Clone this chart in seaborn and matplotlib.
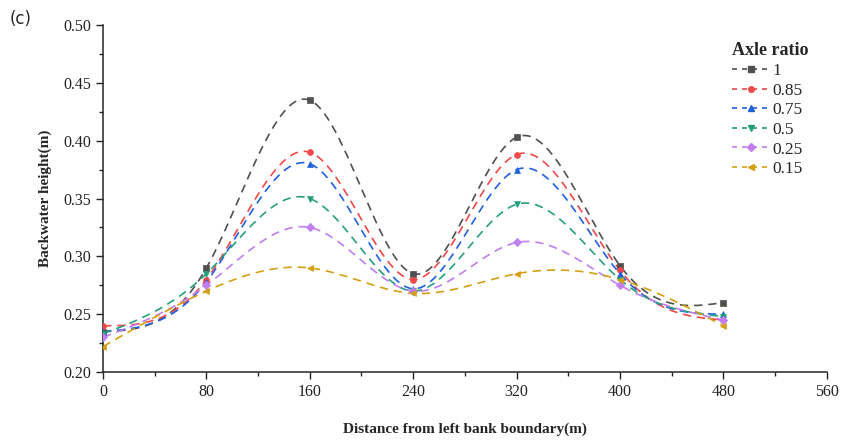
import numpy as np
import pandas as pd
import matplotlib
matplotlib.use("Agg")
import matplotlib.pyplot as plt
import seaborn as sns
from matplotlib.lines import Line2D
from matplotlib.ticker import MultipleLocator

distance = [0, 80, 160, 240, 320, 400, 480]
labels = ["1", "0.85", "0.75", "0.5", "0.25", "0.15"]
h_1 = [0.235, 0.290, 0.435, 0.285, 0.403, 0.292, 0.260]
h_085 = [0.240, 0.280, 0.390, 0.280, 0.388, 0.288, 0.245]
h_075 = [0.235, 0.278, 0.380, 0.272, 0.375, 0.285, 0.250]
h_05 = [0.233, 0.285, 0.350, 0.270, 0.345, 0.280, 0.248]
h_025 = [0.230, 0.275, 0.325, 0.270, 0.312, 0.275, 0.245]
h_015 = [0.222, 0.270, 0.290, 0.268, 0.285, 0.280, 0.240]
series = [h_1, h_085, h_075, h_05, h_025, h_015]

colors = ["#505050", "#f04848", "#2060e0", "#25a07a", "#c07ef0", "#d4a012"]
markers = ["s", "o", "^", "v", "D", "<"]


def spline(x, y, n=300):
    # natural cubic spline, like Origin's "Spline" connect
    x = np.asarray(x, float); y = np.asarray(y, float)
    k = len(x); h = np.diff(x)
    A = np.zeros((k, k)); b = np.zeros(k)
    A[0, 0] = A[-1, -1] = 1
    for i in range(1, k - 1):
        A[i, i - 1] = h[i - 1]; A[i, i] = 2 * (h[i - 1] + h[i]); A[i, i + 1] = h[i]
        b[i] = 6 * ((y[i + 1] - y[i]) / h[i] - (y[i] - y[i - 1]) / h[i - 1])
    M = np.linalg.solve(A, b)
    xs = np.linspace(x[0], x[-1], n)
    j = np.clip(np.searchsorted(x, xs) - 1, 0, k - 2)
    t0 = x[j + 1] - xs; t1 = xs - x[j]
    ys = (M[j] * t0**3 + M[j + 1] * t1**3) / (6 * h[j]) \
        + (y[j] / h[j] - M[j] * h[j] / 6) * t0 + (y[j + 1] / h[j] - M[j + 1] * h[j] / 6) * t1
    return xs, ys


sns.set_style("ticks")
plt.rcParams["font.family"] = ["Liberation Serif", "DejaVu Serif"]
plt.rcParams["xtick.direction"] = "out"
plt.rcParams["ytick.direction"] = "out"

fig = plt.figure(figsize=(8.41, 4.40), dpi=100)
ax = fig.add_axes([0.1225, 0.1545, 0.8605, 0.7885])

handles = []
for vals, lab, c, m in zip(series, labels, colors, markers):
    xs, ys = spline(distance, vals)
    sns.lineplot(x=xs, y=ys, ax=ax, color=c, lw=1.2, linestyle=(0, (5, 3.5)))
    sns.scatterplot(x=distance, y=vals, ax=ax, color=c, marker=m, s=18, edgecolor=c, linewidth=0.5, zorder=3)
    handles.append(Line2D([], [], color=c, lw=1.2, linestyle=(0, (3, 3)), marker=m, markersize=4))

ax.set_xlim(0, 560)
ax.set_ylim(0.20, 0.50)
ax.xaxis.set_major_locator(MultipleLocator(80))
ax.xaxis.set_minor_locator(MultipleLocator(40))
ax.yaxis.set_major_locator(MultipleLocator(0.05))
ax.yaxis.set_minor_locator(MultipleLocator(0.025))
ax.yaxis.set_major_formatter(matplotlib.ticker.FormatStrFormatter("%.2f"))
ax.tick_params(which="major", length=5, width=1, labelsize=11.5, colors="#222222")
ax.tick_params(which="minor", length=3, width=1)
sns.despine(ax=ax)
for s in ("left", "bottom"):
    ax.spines[s].set_linewidth(1.1)

ax.set_xlabel("Distance from left bank boundary(m)", fontsize=11, fontweight="bold", labelpad=16)
ax.set_ylabel("Backwater height(m)", fontsize=11, fontweight="bold", labelpad=8)

leg = ax.legend(handles, labels, title="Axle ratio", loc="upper left", bbox_to_anchor=(0.86, 0.97),
                frameon=False, fontsize=12.5, handlelength=2.2, handletextpad=0.1, labelspacing=0.2,
                borderaxespad=0)
leg.get_title().set_fontweight("bold")
leg.get_title().set_fontsize(13)
leg._legend_box.align = "left"

fig.text(0.012, 0.945, "(c)", fontsize=12, family="DejaVu Sans")

fig.savefig("out.png", dpi=100)
